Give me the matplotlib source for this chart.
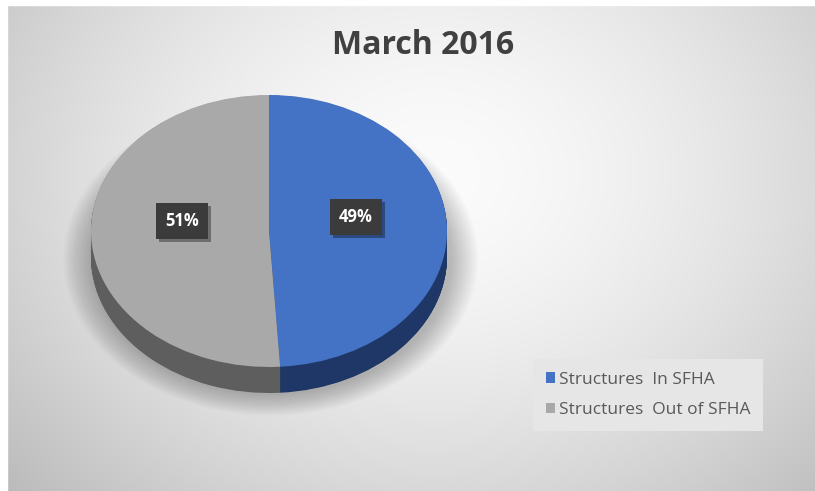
import numpy as np
import matplotlib
matplotlib.use("Agg")
import matplotlib.pyplot as plt
from matplotlib.patches import Ellipse, Rectangle
import matplotlib.patheffects as pe
import matplotlib.transforms as mtransforms

# ---- data ----
title = "March 2016"
categories = ["Structures  In SFHA", "Structures  Out of SFHA"]
shares = [49, 51]
top_colors = ["#4472C4", "#A9A9A9"]
side_colors = ["#1F3766", "#5E5E5E"]

W, H = 815, 491
fig = plt.figure(figsize=(W / 100, H / 100), dpi=100)

# ---- background gradient ----
bg = fig.add_axes([0, 0, 1, 1])
bg.set_xlim(0, W)
bg.set_ylim(H, 0)
bg.axis("off")
yy, xx = np.mgrid[0:H, 0:W]
cx, cy = 430, 170
dist = np.sqrt(((xx - cx) / 520.0) ** 2 + ((yy - cy) / 420.0) ** 2)
val = 0.985 - 0.21 * np.clip(dist, 0, 1.2) ** 1.6
img = np.dstack([val, val, val])
bg.imshow(img, extent=(7, W, H, 5), aspect="auto", zorder=0)
bg.add_patch(Rectangle((0, 0), W, 5, color="white", zorder=1))
bg.add_patch(Rectangle((0, 0), 7, H, color="white", zorder=1))

# ---- pie axes ----
px0, px1 = 91, 447
py_top, py_bot = 95, 393
depth = 26 / 136.0
ax = fig.add_axes([px0 / W, 1 - py_bot / H, (px1 - px0) / W, (py_bot - py_top) / H])
ax.axis("off")

# soft shadow
for i in range(16):
    s = 1.0 + 0.01 * i
    ax.add_patch(Ellipse((0.01, -depth - 0.015), 2 * s + 0.03, 2 * s, color="black",
                         alpha=0.016, lw=0, zorder=0, clip_on=False))

# side (extruded) layers
nsteps = 40
for k in range(nsteps, 0, -1):
    off = depth * k / nsteps
    ax.pie(shares, colors=side_colors, startangle=90, counterclock=False,
           center=(0, -off), radius=1,
           wedgeprops=dict(linewidth=0, antialiased=True))

# top face
wedges, _, autotexts = ax.pie(
    shares, colors=top_colors, startangle=90, counterclock=False,
    center=(0, 0), radius=1, autopct="%d%%", pctdistance=0.49,
    wedgeprops=dict(linewidth=0, antialiased=True))

ax.set_aspect("auto")
ax.set_xlim(-1, 1)
ax.set_ylim(-1 - depth, 1)

shift = mtransforms.ScaledTranslation(0, 12 / 100, fig.dpi_scale_trans)
for t in autotexts:
    t.set_transform(t.get_transform() + shift)
    t.set_color("white")
    t.set_fontfamily("Open Sans")
    t.set_fontweight("bold")
    t.set_fontsize(12)
    t.set_zorder(10)
    t.set_bbox(dict(boxstyle="square,pad=0.55", facecolor="#3B3B3B", edgecolor="none"))
    t.get_bbox_patch().set_path_effects(
        [pe.SimplePatchShadow(offset=(2, -2), shadow_rgbFace="black", alpha=0.35), pe.Normal()])

# ---- title ----
fig.text(423 / W, 1 - 45 / H, title, ha="center", va="center",
         fontsize=23, fontweight="bold", color="#404040", family="Open Sans")

# ---- legend ----
leg = fig.legend(wedges, categories, loc="upper left",
                 bbox_to_anchor=(533 / W, 1 - 359 / H), frameon=True,
                 fancybox=False, prop=dict(family="Open Sans", size=12.5),
                 handlelength=0.55, handleheight=0.55, handletextpad=0.2,
                 labelspacing=0.85, borderpad=0.72, borderaxespad=0)
leg.get_frame().set_facecolor("#E6E6E6")
leg.get_frame().set_edgecolor("none")
leg.get_frame().set_alpha(1)
for txt in leg.get_texts():
    txt.set_color("#595959")

fig.savefig("out.png", dpi=100)
